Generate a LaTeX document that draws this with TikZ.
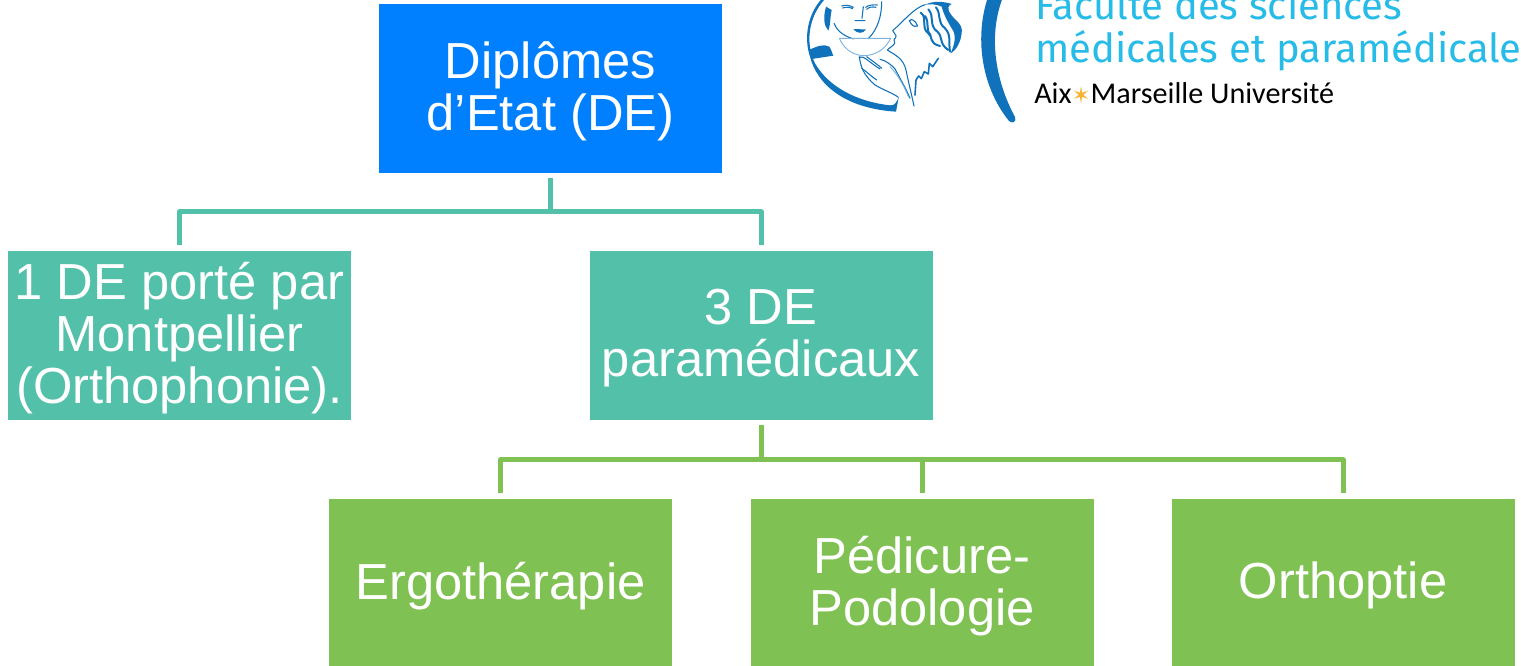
\documentclass[tikz,border=0pt]{standalone}
\usepackage{fontspec}
\setmainfont{Liberation Sans}
\newfontfamily\logofont{Fira Sans}
\newfontfamily\univfont{Carlito}
\newfontfamily\starfont{DejaVu Sans}
\definecolor{cblue}{HTML}{0080FF}
\definecolor{cteal}{HTML}{53C1A9}
\definecolor{cgreen}{HTML}{80C153}
\definecolor{logoblue}{HTML}{0F72BA}
\definecolor{logolight}{HTML}{7FB2DC}
\definecolor{logocyan}{HTML}{27BBE8}
\definecolor{logostar}{HTML}{F9B233}
\tikzset{
  box/.style={rectangle,inner sep=0pt,minimum width=257.25pt,minimum height=126.4pt},
  boxtext/.style={inner sep=0pt,yshift=-2.1pt,text=white,align=center,font=\fontsize{38}{39}\selectfont},
  link/.style={line width=3.75pt,line join=round,shorten <=4.1pt,shorten >=4.1pt},
  logofill/.style={fill=logoblue,draw=none},
  logoline/.style={draw=logoblue,line width=0.8pt,line cap=round,line join=round},
  logothin/.style={draw=logolight,line width=0.7pt,line cap=round,line join=round},
  logotext/.style={inner sep=0pt,anchor=base west,text=logocyan,font=\logofont\fontsize{30}{32}\selectfont},
}
\begin{document}
\begin{tikzpicture}[x=0.75pt,y=-0.75pt]
\useasboundingbox (0,0) rectangle (1521,666);
\clip (0,0) rectangle (1521,666);
% boxes
\node[box,fill=cblue,label={[boxtext]center:Diplômes\\d’Etat (DE)}] (de) at (550.5,88.3) {};
\node[box,fill=cteal,label={[boxtext]center:1 DE porté par\\Montpellier\\(Orthophonie).}] (mont) at (179.5,335.3) {};
\node[box,fill=cteal,label={[boxtext]center:3 DE\\paramédicaux}] (para) at (761,335.3) {};
\node[box,fill=cgreen,label={[boxtext]center:Ergothérapie}] (ergo) at (500.5,582.9) {};
\node[box,fill=cgreen,label={[boxtext]center:Pédicure-\\Podologie}] (pedi) at (922,582.9) {};
\node[box,fill=cgreen,label={[boxtext]center:Orthoptie}] (orth) at (1343,582.9) {};
% connectors
\draw[link,cteal] (de.south) -- ++(0,39) -| (mont.north);
\draw[link,cteal] (de.south) -- ++(0,39) -| (para.north);
\draw[link,cgreen] (para.south) -- ++(0,40) -| (ergo.north);
\draw[link,cgreen] (para.south) -- ++(0,40) -| (pedi.north);
\draw[link,cgreen] (para.south) -- ++(0,40) -| (orth.north);
% logo text
\node[logotext] (fac) at (1035,20) {Faculté des sciences};
\node[logotext] (med) at (1035,63) {médicales et paramédicale};
\node[inner sep=0pt,anchor=base west,font=\univfont\fontsize{22.6}{24}\selectfont] (aix) at (1034,104) {Aix{\color{logostar}\starfont\fontsize{17}{17}\selectfont ✶}Marseille Université};
% crescent
\fill[logoblue] (988,-3) .. controls (975,35) and (980,85) .. (1009,121)
  .. controls (1012,124) and (1017,122) .. (1015,117)
  .. controls (995,80) and (988,35) .. (1003,-3) -- cycle;
% medallion (traced, in units of a third of a pixel)
\begin{scope}[shift={(800,0)},x=0.25pt,y=-0.25pt]
\fill[logoblue] (65,-3) .. controls (25,40) and (10,110) .. (30,170)
  .. controls (50,250) and (130,325) .. (288,335) -- (296,292)
  .. controls (290,305) and (285,318) .. (270,316)
  .. controls (170,305) and (85,260) .. (45,190)
  .. controls (15,130) and (25,50) .. (75,-3) -- cycle;
\fill[logoblue] (26,150) .. controls (50,140) and (70,130) .. (88,140)
  .. controls (95,150) and (98,165) .. (100,167) -- (35,177) -- cycle;
\fill[logoblue] (78,20) .. controls (70,50) and (70,75) .. (85,92)
  .. controls (92,75) and (90,50) .. (95,30) -- cycle;
\draw[logoline] (102,70) .. controls (110,90) and (125,105) .. (160,117);
\draw[logoline] (245,5) .. controls (245,45) and (235,85) .. (205,116);
\draw[logoline] (125,18) .. controls (135,14) and (150,16) .. (160,22) (128,24) .. controls (138,20) and (150,22) .. (158,26);
\draw[logoline] (197,22) .. controls (205,15) and (220,14) .. (232,15) (200,28) .. controls (208,20) and (220,20) .. (228,22);
\draw[logoline] (190,20) -- (186,55) (165,62) -- (195,62);
\fill[logoblue] (160,88) .. controls (175,85) and (185,90) .. (198,88) .. controls (190,102) and (172,102) .. (160,88) -- cycle;
\draw[logothin] (118,115) -- (272,115) (118,115) .. controls (135,155) and (170,168) .. (195,167) .. controls (225,165) and (255,150) .. (272,115);
% drinking profile
\draw[logoline] (375,14) .. controls (340,25) and (310,65) .. (278,92) .. controls (280,100) and (292,105) .. (287,113) .. controls (278,118) and (285,126) .. (284,130) .. controls (278,140) and (265,145) .. (262,150)
  .. controls (285,165) and (310,175) .. (318,210) .. controls (325,245) and (335,285) .. (342,318);
\draw[logoline,line width=1.2pt] (345,285) -- (348,240) -- (356,228) -- (364,236) -- (373,215) -- (385,222) -- (388,190) -- (398,200) -- (415,175);
\draw[logoline] (328,62) .. controls (335,55) and (345,60) .. (353,78) .. controls (340,82) and (335,75) .. (328,62) -- cycle;
% hair
\fill[logoblue] (375,14) .. controls (400,2) and (430,4) .. (455,12) .. controls (445,16) and (440,25) .. (452,42)
  .. controls (462,60) and (490,70) .. (485,100) .. controls (482,125) and (470,150) .. (452,160)
  .. controls (465,130) and (470,105) .. (455,85) .. controls (440,60) and (430,40) .. (425,20) .. controls (410,12) and (390,12) .. (375,14) -- cycle;
\draw[logoline,line width=1.5pt] (362,38) .. controls (385,55) and (360,80) .. (385,100) .. controls (400,110) and (385,130) .. (420,138);
\draw[logoline,line width=1.5pt] (385,28) .. controls (405,50) and (385,75) .. (412,95) .. controls (430,110) and (415,130) .. (445,150);
\draw[logoline,line width=1.5pt] (408,22) .. controls (425,45) and (410,65) .. (435,85) .. controls (455,105) and (445,130) .. (450,155);
\draw[logoline,line width=1.5pt] (375,48) .. controls (390,70) and (375,90) .. (392,105);
% hand
\draw[logoline] (178,170) .. controls (182,200) and (190,225) .. (225,255) .. controls (250,270) and (280,280) .. (295,292);
\draw[logoline] (178,172) .. controls (190,165) and (205,185) .. (240,207) (200,170) .. controls (220,185) and (235,195) .. (245,205) (185,205) .. controls (200,215) and (215,230) .. (230,240) (240,178) .. controls (255,180) and (275,195) .. (285,207);
\draw[logoline] (285,207) .. controls (300,235) and (320,270) .. (330,295);
\draw[logothin] (270,200) .. controls (295,225) and (315,265) .. (325,290);
\end{scope}
\end{tikzpicture}
\end{document}
